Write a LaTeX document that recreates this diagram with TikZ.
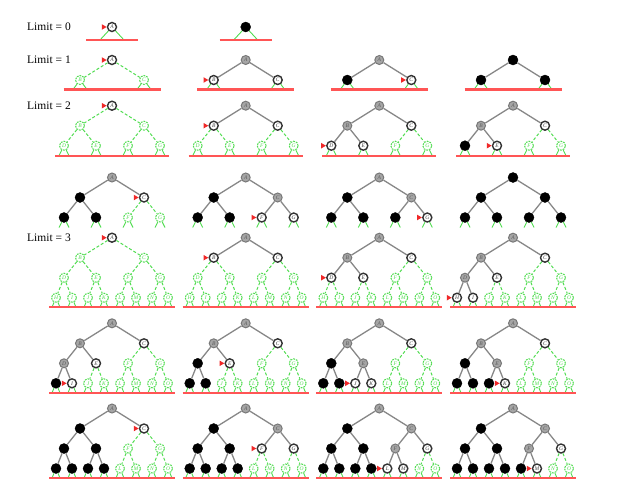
\documentclass[tikz,border=0pt]{standalone}
\usepackage{fontspec}
\setmainfont{Liberation Serif}
\definecolor{grn}{RGB}{80,220,80}
\definecolor{rline}{RGB}{255,85,85}
\definecolor{mk}{RGB}{240,40,40}
\definecolor{expf}{RGB}{165,165,165}
\definecolor{expd}{RGB}{120,120,120}
\definecolor{edg}{RGB}{135,135,135}
\tikzset{
 nd/.style={circle, inner sep=0pt, minimum size=9pt, font=\fontsize{5.5}{5}\selectfont\itshape},
 sun/.style={nd, draw=grn, dash pattern=on 1.8pt off 1pt, line width=1pt, text=grn, fill=white},
 scur/.style={nd, draw=black!80, line width=1.4pt, fill=white, text=black!75},
 sfr/.style={scur},
 sexp/.style={nd, draw=expd, line width=1pt, fill=expf, text=black!65},
 sblk/.style={nd, fill=black, draw=black, minimum size=10pt},
 st/.code={\ifcase#1\tikzset{sun}\or\tikzset{scur}\or\tikzset{sfr}\or\tikzset{sexp}\or\tikzset{sblk}\fi},
 edgeun/.style={grn, dash pattern=on 3pt off 2pt, line width=1pt},
 edgeok/.style={edg, line width=1.3pt},
 et/.code={\ifnum#1=0 \tikzset{edgeun}\else\tikzset{edgeok}\fi},
 stub/.style={grn, line width=0.9pt},
 redline/.style={rline, line width=2.2pt},
 marker/.style={fill=mk},
 lim/.style={anchor=west, font=\fontsize{11.5}{13}\selectfont, inner sep=0pt}
}
\newcommand\tpanel[6]{%
  \ifcase#4 \def\hw{26}\def\off{13}\def\sdx{12}\or \def\hw{48.5}\def\off{9.5}\def\sdx{7}\or \def\hw{57}\def\off{10}\def\sdx{5}\or \def\hw{63}\def\off{9.5}\def\sdx{4}\fi
  \foreach \s [count=\i] in {#5} {%
    \ifnum\i<2 \def\lev{0}\else\ifnum\i<4 \def\lev{1}\else\ifnum\i<8 \def\lev{2}\else\def\lev{3}\fi\fi\fi
    \pgfmathsetmacro\px{#2+(\i-2^\lev+0.5-2^(\lev-1))*128/2^\lev}%
    \pgfmathsetmacro\py{#3+20*\lev}%
    \node[st=\s] (#1-\i) at (\px,\py) {\ifnum\s=4 \else\ifcase\i\or A\or B\or C\or D\or E\or F\or G\or H\or I\or J\or K\or L\or M\or N\or O\fi\fi};
    \ifnum\s=1 \fill[marker] ([xshift=-0.2pt]#1-\i.west) -- ++(-4.8,2.8) -- ++(0,-5.6) -- cycle;\fi
    \ifnum\lev=#4 \draw[stub] (#1-\i) -- ++(-\sdx,\off); \draw[stub] (#1-\i) -- ++(\sdx,\off);\fi
  }%
  \foreach \s [count=\i] in {#5} {%
    \ifnum\i>1 \pgfmathtruncatemacro\pp{\i/2}\draw[et=\s] (#1-\pp) -- (#1-\i);\fi
  }%
  \ifnum#6=1 \pgfmathsetmacro\ly{#3+20*#4+\off}%
    \coordinate (#1-l) at (#2-\hw,\ly); \coordinate (#1-r) at (#2+\hw,\ly);
    \draw[redline] (#1-l) -- (#1-r);\fi
}
\begin{document}
\begin{tikzpicture}[x=1pt,y=-1pt]
\useasboundingbox (0,0) rectangle (617,485);
\node[lim] (l0) at (27,27) {Limit = 0};
\node[lim] (l1) at (27,60) {Limit = 1};
\node[lim] (l2) at (27,105.7) {Limit = 2};
\node[lim] (l3) at (27,237.7) {Limit = 3};
% Limit 0
\tpanel{za}{112}{27}{0}{1}{1}
\tpanel{zb}{245.7}{27}{0}{4}{1}
% Limit 1
\tpanel{ya}{112}{60}{1}{1,0,0}{1}
\tpanel{yb}{245.7}{60}{1}{3,1,2}{1}
\tpanel{yc}{379.3}{60}{1}{3,4,1}{1}
\tpanel{yd}{513}{60}{1}{4,4,4}{1}
% Limit 2
\tpanel{xa}{112}{105.7}{2}{1,0,0,0,0,0,0}{1}
\tpanel{xb}{245.7}{105.7}{2}{3,1,2,0,0,0,0}{1}
\tpanel{xc}{379.3}{105.7}{2}{3,3,2,1,2,0,0}{1}
\tpanel{xd}{513}{105.7}{2}{3,3,2,4,1,0,0}{1}
\tpanel{wa}{112}{177.5}{2}{3,4,1,4,4,0,0}{0}
\tpanel{wb}{245.7}{177.5}{2}{3,4,3,4,4,1,2}{0}
\tpanel{wc}{379.3}{177.5}{2}{3,4,3,4,4,4,1}{0}
\tpanel{wd}{513}{177.5}{2}{4,4,4,4,4,4,4}{0}
% Limit 3
\tpanel{va}{112}{237.7}{3}{1,0,0,0,0,0,0,0,0,0,0,0,0,0,0}{1}
\tpanel{vb}{245.7}{237.7}{3}{3,1,2,0,0,0,0,0,0,0,0,0,0,0,0}{1}
\tpanel{vc}{379.3}{237.7}{3}{3,3,2,1,2,0,0,0,0,0,0,0,0,0,0}{1}
\tpanel{vd}{513}{237.7}{3}{3,3,2,3,2,0,0,1,2,0,0,0,0,0,0}{1}
\tpanel{ua}{112}{323.3}{3}{3,3,2,3,2,0,0,4,1,0,0,0,0,0,0}{1}
\tpanel{ub}{245.7}{323.3}{3}{3,3,2,4,1,0,0,4,4,0,0,0,0,0,0}{1}
\tpanel{uc}{379.3}{323.3}{3}{3,3,2,4,3,0,0,4,4,1,2,0,0,0,0}{1}
\tpanel{ud}{513}{323.3}{3}{3,3,2,4,3,0,0,4,4,4,1,0,0,0,0}{1}
\tpanel{ta}{112}{408.5}{3}{3,4,1,4,4,0,0,4,4,4,4,0,0,0,0}{1}
\tpanel{tb}{245.7}{408.5}{3}{3,4,3,4,4,1,2,4,4,4,4,0,0,0,0}{1}
\tpanel{tc}{379.3}{408.5}{3}{3,4,3,4,4,3,2,4,4,4,4,1,2,0,0}{1}
\tpanel{td}{513}{408.5}{3}{3,4,3,4,4,3,2,4,4,4,4,4,1,0,0}{1}
\end{tikzpicture}
\end{document}
